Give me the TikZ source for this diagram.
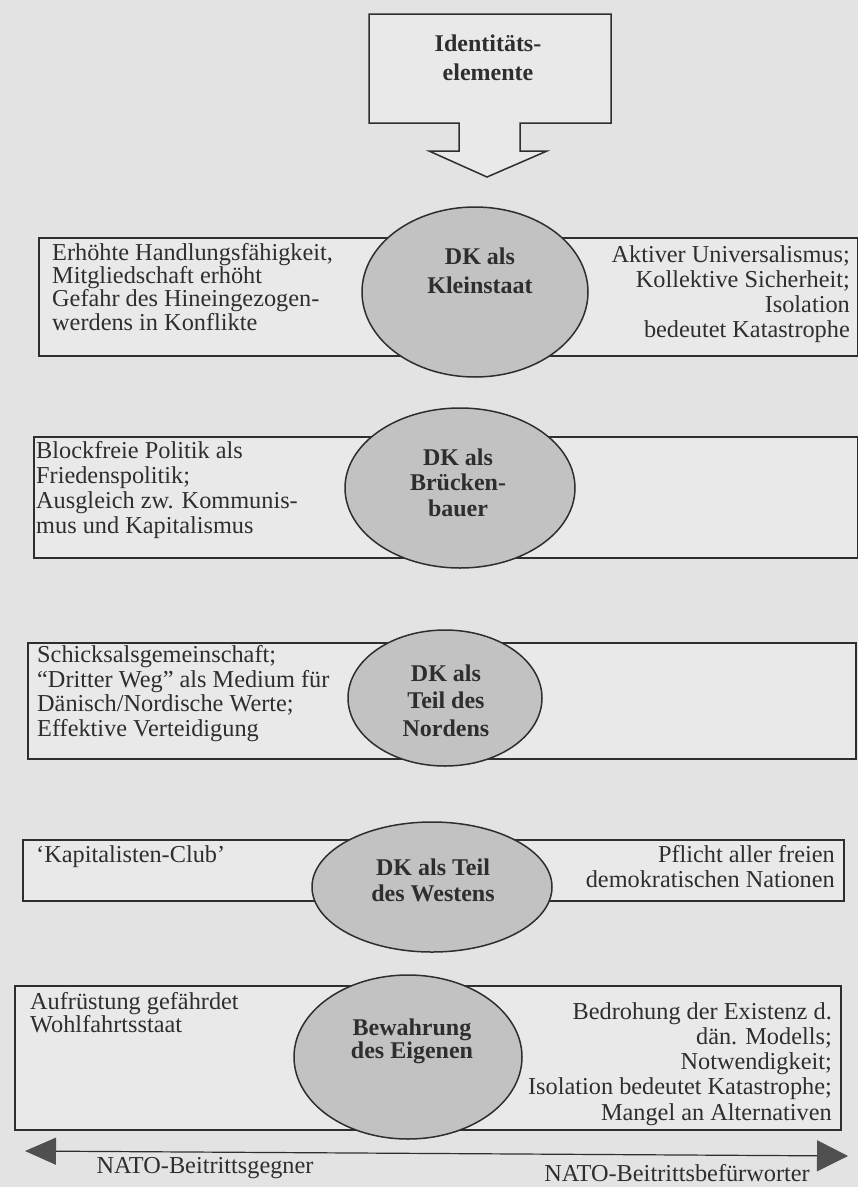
\documentclass[tikz,border=0pt]{standalone}
\usepackage{fontspec}
\setmainfont{Liberation Serif}
\usetikzlibrary{shapes.geometric,arrows.meta}
\definecolor{bg}{HTML}{E3E3E3}
\definecolor{boxfill}{HTML}{E9E9E9}
\definecolor{ellfill}{HTML}{C2C2C2}
\definecolor{ink}{HTML}{2E2E2E}
\definecolor{headfill}{HTML}{505050}
\begin{document}
\begin{tikzpicture}[x=1pt,y=-1pt,
  rowbox/.style={draw=ink, line width=1.5pt, fill=boxfill, inner sep=0pt, anchor=north west},
  ell/.style={ellipse, draw=ink, line width=1.5pt, fill=ellfill, inner sep=0pt},
  ltext/.style={anchor=north west, inner sep=0pt, align=left, text=ink},
  rtext/.style={anchor=north east, inner sep=0pt, align=right, text=ink},
  btext/.style={inner sep=0pt, align=center, text=ink},
  fa/.style={font=\fontsize{24.3}{#1}\selectfont},
  fb/.style={font=\bfseries\fontsize{24}{#1}\selectfont}]
\fill[bg] (0,0) rectangle (858,1187);
\useasboundingbox (0,0) rectangle (858,1187);

% top callout
\draw[ink, line width=1.5pt, fill=boxfill] (369,14) -- (611,14) -- (611,123) -- (520,123) -- (520,151) -- (547,151) -- (487,177) -- (429,151) -- (459,151) -- (459,123) -- (369,123) -- cycle;
\node[btext, fb=29] (ident) at (488,57.5) {Identitäts-\\elemente};

% row boxes
\node[rowbox, minimum width=819pt, minimum height=118pt] (r1) at (38,237) {};
\node[rowbox, minimum width=824pt, minimum height=121pt] (r2) at (33,436) {};
\node[rowbox, minimum width=828pt, minimum height=116pt] (r3) at (27,642) {};
\node[rowbox, minimum width=821pt, minimum height=61pt] (r4) at (22,839) {};
\node[rowbox, minimum width=826pt, minimum height=144pt] (r5) at (14,985) {};

% row texts
\node[ltext, fa=23.3] (t1l) at (52,243) {Erhöhte Handlungsfähigkeit,\\Mitgliedschaft erhöht\\Gefahr des Hineingezogen-\\werdens in Konflikte};
\node[rtext, fa=25] (t1r) at (850,245) {Aktiver Universalismus;\\Kollektive Sicherheit;\\Isolation\\bedeutet Katastrophe};
\node[ltext, fa=25] (t2l) at (36,441) {Blockfreie Politik als\\Friedenspolitik;\\Ausgleich zw. Kommunis-\\mus und Kapitalismus};
\node[ltext, fa=24.7] (t3l) at (37,645) {Schicksalsgemeinschaft;\\“Dritter Weg” als Medium für\\Dänisch/Nordische Werte;\\Effektive Verteidigung};
\node[ltext, fa=25] (t4l) at (36,845) {‘Kapitalisten-Club’};
\node[rtext, fa=25] (t4r) at (835,845) {Pflicht aller freien\\demokratischen Nationen};
\node[ltext, fa=23] (t5l) at (30,992) {Aufrüstung gefährdet\\Wohlfahrtsstaat};
\node[rtext, fa=25.25] (t5r) at (832,1002) {Bedrohung der Existenz d.\\dän. Modells;\\Notwendigkeit;\\Isolation bedeutet Katastrophe;\\Mangel an Alternativen};

% ellipses
\node[ell, minimum width=226pt, minimum height=170pt] (e1) at (475,292) {};
\node[ell, minimum width=230pt, minimum height=160pt] (e2) at (460,488) {};
\node[ell, minimum width=194pt, minimum height=136pt] (e3) at (445,698) {};
\node[ell, minimum width=240pt, minimum height=130pt] (e4) at (432,887) {};
\node[ell, minimum width=228pt, minimum height=164pt] (e5) at (408,1057) {};

\node[btext, fb=29] (e1t) at (480,270.5) {DK als\\Kleinstaat};
\node[btext, fb=25.5] (e2t) at (458,482.5) {DK als\\Brücken-\\bauer};
\node[btext, fb=27.5] (e3t) at (446,700.5) {DK als\\Teil des\\Nordens};
\node[btext, fb=26] (e4t) at (433,880) {DK als Teil\\des Westens};
\node[btext, fb=23] (e5t) at (412,1041.5) {Bewahrung\\des Eigenen};

% bottom axis
\coordinate (aL) at (25,1151);
\coordinate (aR) at (848,1156);
\draw[ink, line width=1.2pt, {Triangle[length=31pt,width=27pt,color=headfill]}-{Triangle[length=31pt,width=31pt,color=headfill]}] (aL) -- (aR);
\node[btext, fa=25] (gegner) at (205,1168) {NATO-Beitrittsgegner};
\node[btext, fa=25] (befuer) at (677,1173) {NATO-Beitrittsbefürworter};
\end{tikzpicture}
\end{document}
